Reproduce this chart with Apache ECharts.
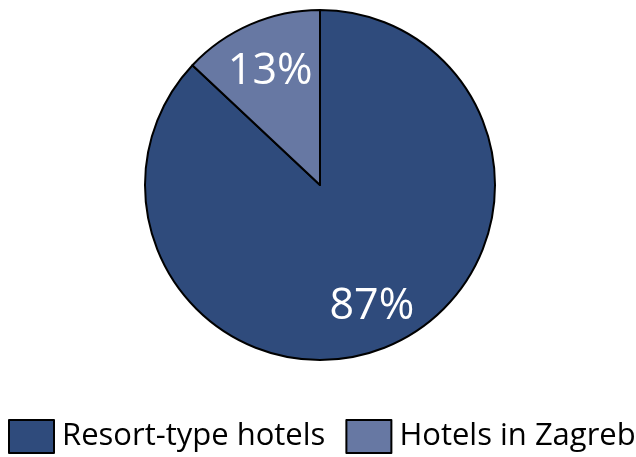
<!DOCTYPE html>
<html><head><meta charset="utf-8">
<script src="https://cdn.jsdelivr.net/npm/echarts@6/dist/echarts.min.js"></script>
<style>html,body{margin:0;padding:0;background:#fff}#c{width:636px;height:457px}</style>
</head><body><div id="c"></div>
<script>
const categories = ['Resort-type hotels', 'Hotels in Zagreb'];
const values = [87, 13];
const colors = ['#2f4b7c', '#6778a3'];

const chart = echarts.init(document.getElementById('c'), null, {renderer: 'canvas'});
const data = categories.map((n, i) => ({name: n, value: values[i], itemStyle: {color: colors[i]}}));
chart.setOption({
  animation: false,
  legend: {
    data: categories,
    left: 8, top: 419, width: 900, padding: 0,
    itemWidth: 45, itemHeight: 33, itemGap: 20,
    icon: 'rect',
    itemStyle: {borderColor: '#000', borderWidth: 2},
    textStyle: {fontFamily: 'Open Sans', fontSize: 31, color: '#000', padding: [0, 0, 0, 3]}
  },
  series: [{
    type: 'pie',
    center: [320, 185], radius: 175,
    startAngle: 90, clockwise: true,
    silent: true,
    itemStyle: {borderColor: '#000', borderWidth: 2},
    label: {show: false}, labelLine: {show: false},
    data: data
  }, {
    type: 'pie',
    center: [320, 185], radius: 250,
    startAngle: 90, clockwise: true,
    silent: true,
    legendHoverLink: false,
    itemStyle: {color: 'rgba(0,0,0,0)', borderWidth: 0},
    label: {show: true, position: 'inside', formatter: '{c}%', color: '#fff', fontFamily: 'Open Sans', fontSize: 43, offset: [1, 4]},
    labelLine: {show: false},
    data: categories.map((n, i) => ({name: n + ' ', value: values[i]}))
  }]
});
</script></body></html>
